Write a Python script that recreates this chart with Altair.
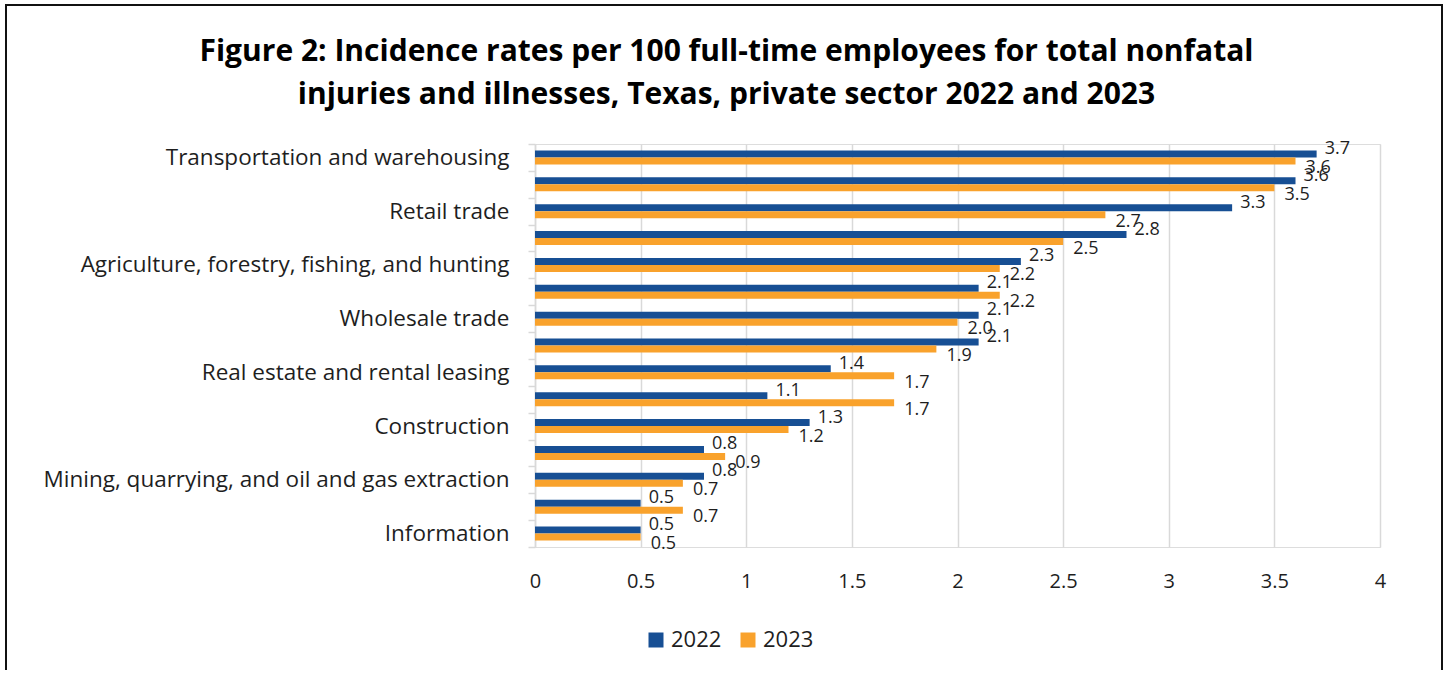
import altair as alt
import pandas as pd

# ---- data ----
industries = [
    "Transportation and warehousing",
    "Health care and social assistance",
    "Retail trade",
    "Manufacturing",
    "Agriculture, forestry, fishing, and hunting",
    "Accommodation and food services",
    "Wholesale trade",
    "Arts, entertainment, and recreation",
    "Real estate and rental leasing",
    "Other services (except public administration)",
    "Construction",
    "Administrative and support and waste management",
    "Mining, quarrying, and oil and gas extraction",
    "Educational services",
    "Information",
]
rate_2022 = [3.7, 3.6, 3.3, 2.8, 2.3, 2.1, 2.1, 2.1, 1.4, 1.1, 1.3, 0.8, 0.8, 0.5, 0.5]
rate_2023 = [3.6, 3.5, 2.7, 2.5, 2.2, 2.2, 2.0, 1.9, 1.7, 1.7, 1.2, 0.9, 0.7, 0.7, 0.5]
shown_labels = [
    "Transportation and warehousing",
    "Retail trade",
    "Agriculture, forestry, fishing, and hunting",
    "Wholesale trade",
    "Real estate and rental leasing",
    "Construction",
    "Mining, quarrying, and oil and gas extraction",
    "Information",
]
years = ["2022", "2023"]
x_ticks = [0, 0.5, 1, 1.5, 2, 2.5, 3, 3.5, 4]
title_lines = [
    "Figure 2: Incidence rates per 100 full-time employees for total nonfatal",
    "injuries and illnesses, Texas, private sector 2022 and 2023",
]

rows = []
for i, ind in enumerate(industries):
    rows.append({"industry": ind, "year": years[0], "rate": rate_2022[i]})
    rows.append({"industry": ind, "year": years[1], "rate": rate_2023[i]})
df = pd.DataFrame(rows)

BLUE = "#174F94"
ORANGE = "#F9A22C"
TXT = "#1e1e1e"
GRID = "#d9d9d9"
FONT = "Open Sans"

W, H = 845, 403

label_list = "[" + ",".join("'" + s.replace("'", "\\'") + "'" for s in shown_labels) + "]"

y_enc = alt.Y(
    "industry:N",
    sort=industries,
    scale=alt.Scale(paddingInner=0, paddingOuter=0),
    axis=alt.Axis(
        title=None,
        labelExpr=f"indexof({label_list}, datum.value) >= 0 ? datum.label : ''",
        tickBand="extent",
        tickSize=7,
        tickColor=GRID,
        tickWidth=1.5,
        domainColor=GRID,
        domainWidth=1.5,
        labelPadding=19,
        labelFontSize=22.5,
        labelFont=FONT,
        labelColor=TXT,
        labelLimit=700,
        grid=False,
    ),
)
yoff = alt.YOffset(
    "year:N",
    sort=years,
    scale=alt.Scale(domain=years, paddingInner=0, paddingOuter=0.92),
)
x_enc = alt.X(
    "rate:Q",
    scale=alt.Scale(domain=[0, 4], nice=False),
    axis=alt.Axis(
        values=x_ticks,
        format="~g",
        title=None,
        grid=True,
        gridColor=GRID,
        gridWidth=1.5,
        domain=False,
        ticks=False,
        labelFlush=False,
        labelPadding=24,
        labelFontSize=20,
        labelFont=FONT,
        labelColor=TXT,
    ),
)

bars = alt.Chart(df).mark_bar(size=7).encode(
    x=x_enc,
    y=y_enc,
    yOffset=yoff,
    color=alt.Color(
        "year:N",
        scale=alt.Scale(domain=years, range=[BLUE, ORANGE]),
        legend=alt.Legend(
            title=None,
            orient="none",
            direction="horizontal",
            legendX=110,
            legendY=485,
            symbolType="square",
            symbolSize=225,
            symbolStrokeWidth=0,
            labelFontSize=22,
            labelFont=FONT,
            labelColor=TXT,
            labelOffset=4,
            columnPadding=15,
            padding=0,
        ),
    ),
)

lab22 = alt.Chart(df).transform_filter(alt.datum.year == years[0]).mark_text(
    align="left", baseline="middle", dx=8, dy=-5, fontSize=18, font=FONT, color=TXT
).encode(
    x="rate:Q",
    y=alt.Y("industry:N", sort=industries),
    yOffset=alt.YOffset("year:N", sort=years),
    text=alt.Text("rate:Q", format=".1f"),
)
lab23 = alt.Chart(df).transform_filter(alt.datum.year == years[1]).mark_text(
    align="left", baseline="middle", dx=10, dy=7, fontSize=18, font=FONT, color=TXT
).encode(
    x="rate:Q",
    y=alt.Y("industry:N", sort=industries),
    yOffset=alt.YOffset("year:N", sort=years),
    text=alt.Text("rate:Q", format=".1f"),
)

frame = alt.Chart(alt.Data(values=[{}])).mark_rect(
    fillOpacity=0, stroke="#111111", strokeWidth=2
).encode(
    x=alt.value(-529), x2=alt.value(907), y=alt.value(-139), y2=alt.value(600)
)

chart = alt.layer(bars, lab22, lab23, frame).properties(
    width=W,
    height=H,
    autosize=alt.AutoSizeParams(type="none"),
    padding={"left": 535, "top": 144, "right": 70, "bottom": 123},
    title=alt.TitleParams(
        text=title_lines,
        fontSize=30,
        font=FONT,
        fontWeight="bold",
        color="#000000",
        anchor="middle",
        dx=-231,
        dy=148,
        offset=42,
        lineHeight=43,
    ),
).configure_view(stroke=None).configure(background="white")

chart.save("out.html", embed_options={"renderer": "svg", "actions": False})
